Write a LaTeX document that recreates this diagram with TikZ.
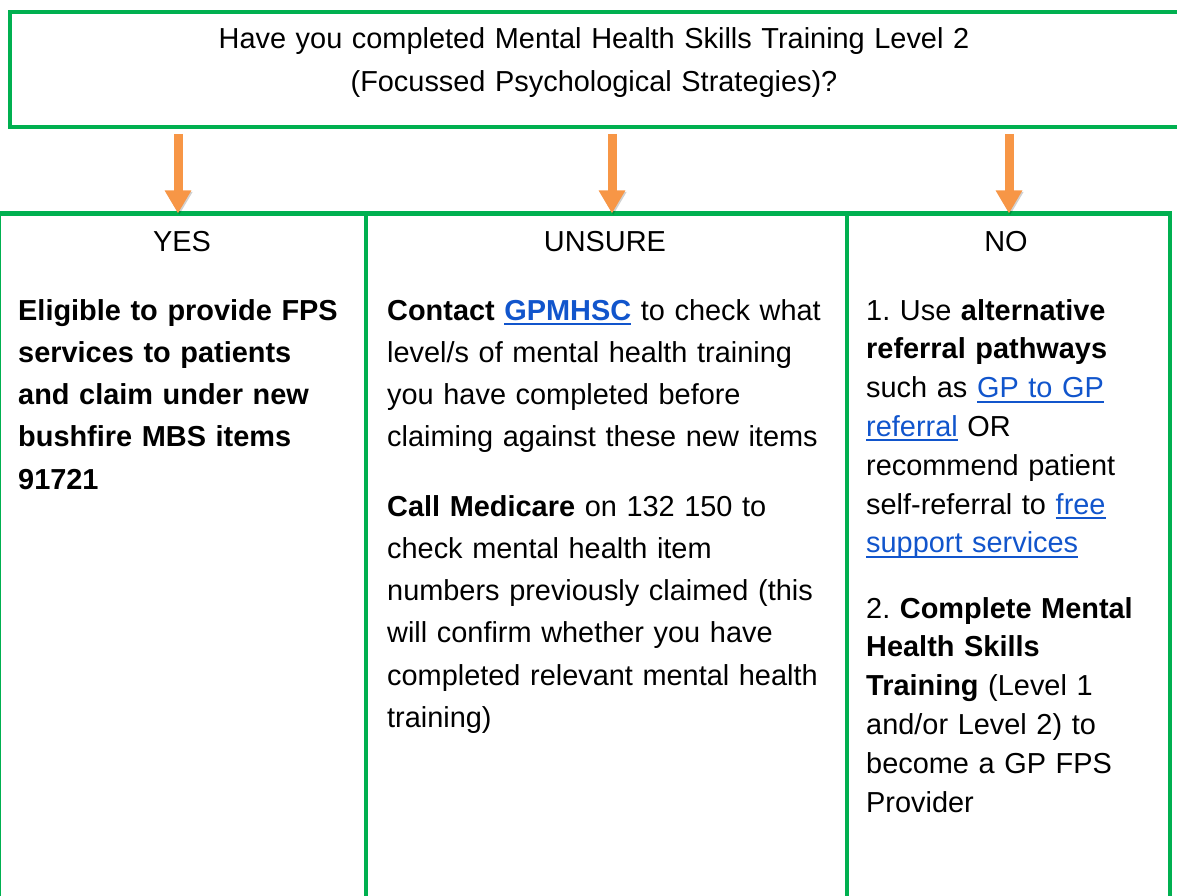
\documentclass[tikz,border=0pt]{standalone}
\usepackage{fontspec}
\setmainfont{Liberation Sans}
\usetikzlibrary{arrows.meta,positioning}
\definecolor{boxgreen}{HTML}{00B050}
\definecolor{arroworange}{HTML}{F79646}
\definecolor{linkblue}{HTML}{1155CC}
\newsavebox{\linkbox}
\newcommand{\weblink}[1]{\textcolor{linkblue}{\sbox{\linkbox}{#1}\rlap{\rule[-5pt]{\wd\linkbox}{2pt}}\usebox{\linkbox}}}
\frenchspacing
\begin{document}
\begin{tikzpicture}[x=1pt,y=-1pt,
    every node/.style={font=\fontsize{28.9}{42.3}\selectfont},
    frame/.style={draw=boxgreen,line width=4.5pt,outer sep=0pt,inner sep=0pt,anchor=north west},
    bodytext/.style={anchor=base west,inner sep=0pt,align=left,text width=#1},
    tightlines/.style={font=\fontsize{28.9}{38.8}\selectfont},
    fpsarrow/.style={arroworange,line width=9pt,-{Triangle[width=25pt,length=23pt]},
        preaction={draw=black,opacity=0.18,transform canvas={shift={(1.2pt,-1.5pt)}}}}]
\useasboundingbox (0,0) rectangle (1177,896);
\clip (0,0) rectangle (1177,896);

% question
\node[frame,minimum width=1170pt,minimum height=115pt] (question) at (10,12) {};
\node[anchor=base,inner sep=0pt,align=center,text width=1100pt] (questiontext) at (594,49)
    {Have you completed Mental Health Skills Training Level 2\\(Focussed Psychological Strategies)?};

% three answer columns
\node[frame,minimum width=367pt,minimum height=720pt] (yes) at (-1,213.5) {};
\node[frame,minimum width=481pt,minimum height=720pt] (unsure) at (366,213.5) {};
\node[frame,minimum width=323pt,minimum height=720pt] (no) at (847,213.5) {};

% arrows
\foreach \ax/\col in {178/yes,612/unsure,1009/no}
    \draw[fpsarrow] (question.south -| \ax,0) ++(0,7) -- (\col.north -| \ax,0);

% column headings
\node[anchor=base,inner sep=0pt] (yeshead) at (182,251) {YES};
\node[anchor=base,inner sep=0pt] (unsurehead) at (605,251) {UNSURE};
\node[anchor=base,inner sep=0pt] (nohead) at (1006,251) {NO};

% YES
\node[bodytext=340pt] (yestext) at (18,320)
    {\textbf{Eligible to provide FPS\\services to patients\\and claim under new\\bushfire MBS items\\91721}};

% UNSURE
\node[bodytext=455pt] (unsuretext) at (387,320)
    {\textbf{Contact \weblink{GPMHSC}} to check what\\level/s of mental health training\\you have completed before\\claiming against these new items};
\node[bodytext=455pt] (medicaretext) at (387,516)
    {\textbf{Call Medicare} on 132 150 to\\check mental health item\\numbers previously claimed (this\\will confirm whether you have\\completed relevant mental health\\training)};

% NO
\node[bodytext=298pt,tightlines] (notext) at (866,320)
    {1. Use \textbf{alternative}\\\textbf{referral pathways}\\such as \weblink{GP to GP}\\\weblink{referral} OR\\recommend patient\\self-referral to \weblink{free}\\\weblink{support services}};
\node[bodytext=298pt,tightlines] (trainingtext) at (866,618)
    {2. \textbf{Complete Mental}\\\textbf{Health Skills}\\\textbf{Training} (Level 1\\and/or Level 2) to\\become a GP FPS\\Provider};
\end{tikzpicture}
\end{document}
